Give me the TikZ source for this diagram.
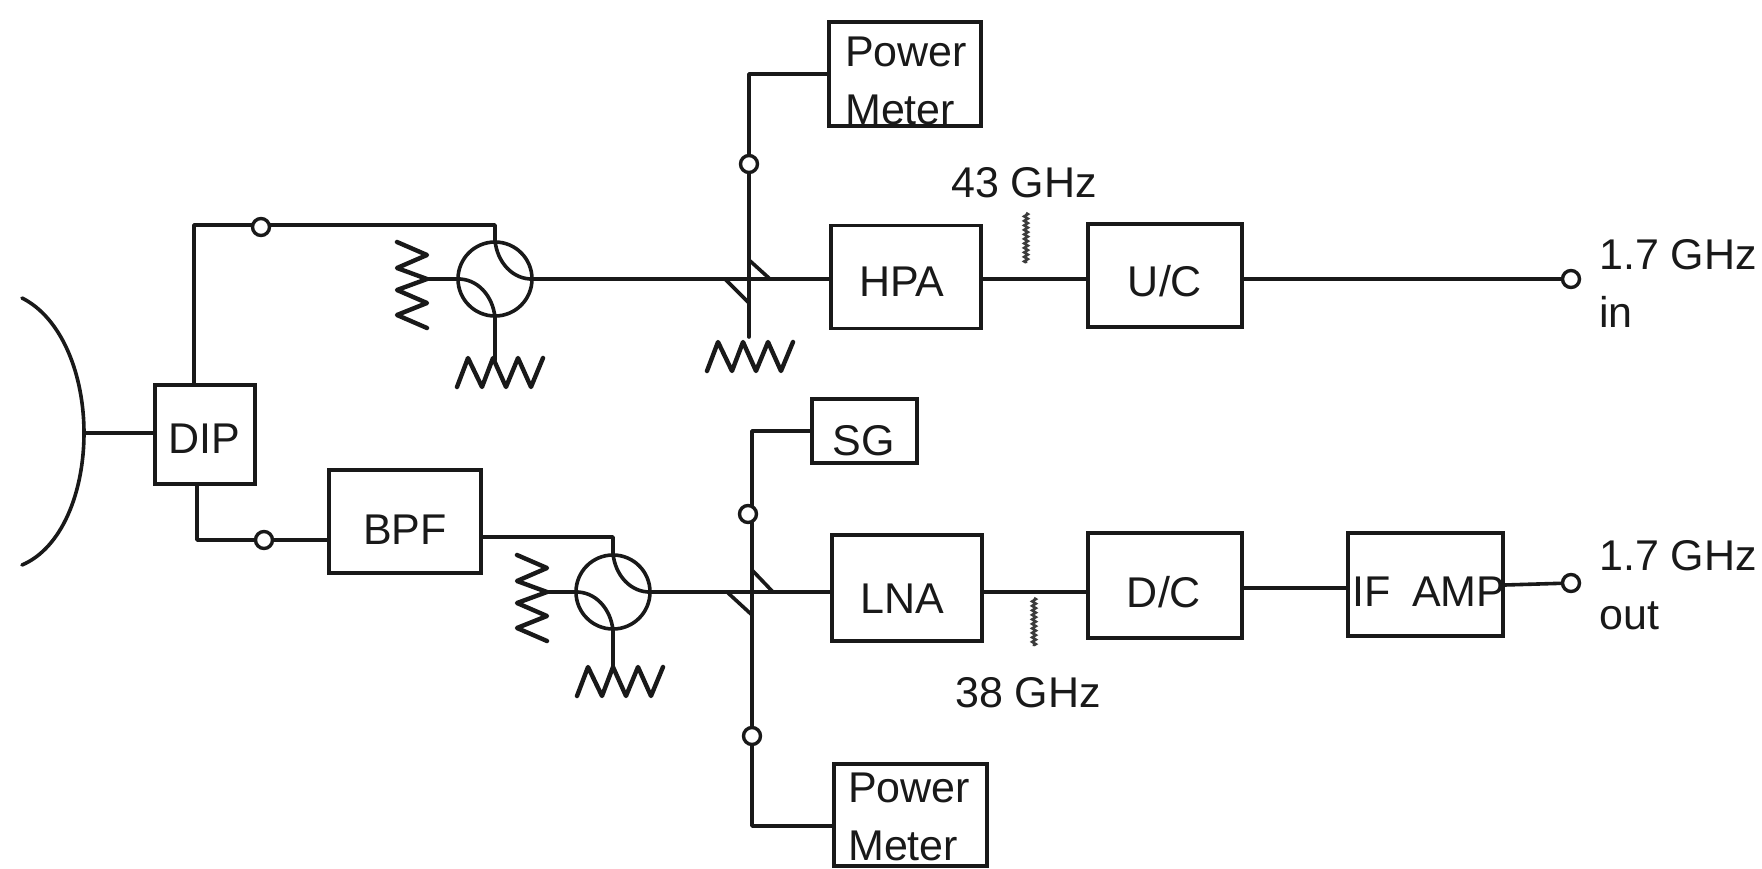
\documentclass[tikz,border=0pt]{standalone}
\usepackage{fontspec}
\usetikzlibrary{decorations.pathmorphing}
\setmainfont{Liberation Sans}
\definecolor{ink}{gray}{0.1}
\tikzset{
  wire/.style={draw=ink,line width=3.6pt,line cap=round,line join=round},
  reswire/.style={draw=ink,line width=4.4pt,line cap=round,line join=round},
  stub/.style={draw=ink!85,line width=2.6pt,decorate,decoration={zigzag,segment length=4.5pt,amplitude=1.8pt}},
  blockbox/.style={draw=ink,line width=3.2pt,inner sep=0pt},
  lbl/.style={text=ink,inner sep=0pt,font=\fontsize{43}{58}\selectfont},
  lblleft/.style={lbl,anchor=west},
  port/.style={circle,draw=ink,fill=white,line width=3.4pt,minimum size=17pt,inner sep=0pt},
  circulator/.style={circle,draw=ink,line width=3.6pt,minimum size=74pt,inner sep=0pt},
  hres/.pic={\draw[reswire] (0,0)--(11,-29)--(25,0)--(36,-29)--(49,0)--(61,-29)--(74,0)--(86,-29);},
  vres/.pic={\draw[reswire] (0,0)--(30,13)--(0,26)--(30,37)--(0,48)--(30,61)--(0,73)--(30,86);}
}
\begin{document}
\begin{tikzpicture}[x=1pt,y=-1pt]
\useasboundingbox (0,0) rectangle (1762,868);
\fill[white] (0,0) rectangle (1762,868);
% blocks
\node[blockbox,minimum width=152pt,minimum height=104pt] (pm1) at (905,74) {};
\node[lblleft,align=left] (pm1t) at (845,81) {Power\\Meter};
\node[blockbox,minimum width=150pt,minimum height=103pt] (hpa) at (906,277) {};
\node[lbl] (hpat) at (902,282) {HPA};
\node[blockbox,minimum width=154pt,minimum height=103pt] (uc) at (1165,275.5) {};
\node[lbl] (uct) at (1165,281) {U/C};
\node[blockbox,minimum width=100pt,minimum height=99pt] (dip) at (205,434.5) {};
\node[lbl] (dipt) at (204,439) {DIP};
\node[blockbox,minimum width=152pt,minimum height=103pt] (bpf) at (405,521.5) {};
\node[lbl] (bpft) at (405,530) {BPF};
\node[blockbox,minimum width=105pt,minimum height=64pt] (sg) at (864.5,431) {};
\node[lbl] (sgt) at (864,441) {SG};
\node[blockbox,minimum width=150pt,minimum height=106pt] (lna) at (907,588) {};
\node[lbl] (lnat) at (902,599) {LNA};
\node[blockbox,minimum width=154pt,minimum height=105pt] (dc) at (1165,585.5) {};
\node[lbl] (dct) at (1164,592) {D/C};
\node[blockbox,minimum width=155pt,minimum height=103pt] (amp) at (1425.5,584.5) {};
\node[lbl] (ampt) at (1429,592) {IF\hspace{21pt}AMP};
\node[blockbox,minimum width=153pt,minimum height=102pt] (pm2) at (910.5,815) {};
\node[lblleft,align=left] (pm2t) at (848,817) {Power\\Meter};
% circulators
\node[circulator] (c1) at (495,279) {};
\node[circulator] (c2) at (613,592) {};
\draw[wire] (c1.north) to[out=-85,in=183] (c1.east);
\draw[wire] (c1.west) to[out=3,in=95] (c1.south);
\draw[wire] (c2.north) to[out=-85,in=183] (c2.east);
\draw[wire] (c2.west) to[out=3,in=95] (c2.south);
% junctions and free ends
\coordinate (j1) at (749,279);
\coordinate (j2) at (752,592);
\coordinate (dish) at (84,433);
\coordinate (s1) at (1026,213);
\coordinate (s1b) at (1026,263);
\coordinate (s2) at (1034,598);
\coordinate (s2b) at (1034,646);
\coordinate (r1a) at (425,279);
\coordinate (r1b) at (495,360);
\coordinate (r2a) at (547,592);
\coordinate (r2b) at (613,667);
\coordinate (r3a) at (749,337);
\coordinate (e1a) at (194,225);
\coordinate (e1b) at (495,225);
\coordinate (e2a) at (197,540);
\coordinate (e2b) at (613,537);
% dish
\draw[wire] (22,298) .. controls (62,318) and (84,375) .. (dish) .. controls (84,492) and (62,548) .. (22,565);
\draw[wire] (dish) -- (dip.west |- dish);
% top chain
\draw[wire] (dip.north -| e1a) -- (e1a) -- (e1b) -- (c1.north);
\draw[wire] (c1.east) -- (c1.east -| hpa.west);
\draw[wire] (hpa.east |- j1) -- (uc.west |- j1);
\draw[wire] (uc.east |- j1) -- (1571,279);
\draw[wire] (r1a) -- (c1.west);
\draw[wire] (c1.south) -- (r1b);
\draw[wire] (r3a) -- (j1) |- (pm1.west);
\draw[wire] (749,260) -- (770,279);
\draw[wire] (725,279) -- (749,303);
\pic at (397,242) {vres};
\pic at (457,387) {hres};
\pic at (707,371) {hres};
\draw[stub] (s1) -- (s1b);
\node[port] (pt1) at (261,227) {};
\node[port] (pv1) at (749,164) {};
\node[port] (po1) at (1571,279) {};
% bottom chain
\draw[wire] (dip.south -| e2a) -- (e2a) -- (e2a -| bpf.west);
\draw[wire] (bpf.east |- e2b) -- (e2b) -- (c2.north);
\draw[wire] (c2.east) -- (c2.east -| lna.west);
\draw[wire] (lna.east |- j2) -- (dc.west |- j2);
\draw[wire] (dc.east |- 0,588) -- (amp.west |- 0,588);
\draw[wire] (amp.east |- 0,585) -- (1571,583);
\draw[wire] (r2a) -- (c2.west);
\draw[wire] (c2.south) -- (r2b);
\draw[wire] (sg.west) -| (j2) |- (pm2.west |- 0,826);
\draw[wire] (752,570) -- (773,592);
\draw[wire] (727,592) -- (752,615);
\pic at (517,555) {vres};
\pic at (577,696) {hres};
\draw[stub] (s2) -- (s2b);
\node[port] (pt2) at (264,540) {};
\node[port] (pv2) at (748,514) {};
\node[port] (pv3) at (752,736) {};
\node[port] (po2) at (1571,583) {};
% labels
\node[lbl] (f43) at (1024,183) {43 GHz};
\node[lbl] (f38) at (1028,693) {38 GHz};
\node[lblleft] (in1) at (1599,255) {1.7 GHz};
\node[lblleft] (in2) at (1599,312) {in};
\node[lblleft] (out1) at (1599,556) {1.7 GHz};
\node[lblleft] (out2) at (1599,616) {out};
\end{tikzpicture}
\end{document}
